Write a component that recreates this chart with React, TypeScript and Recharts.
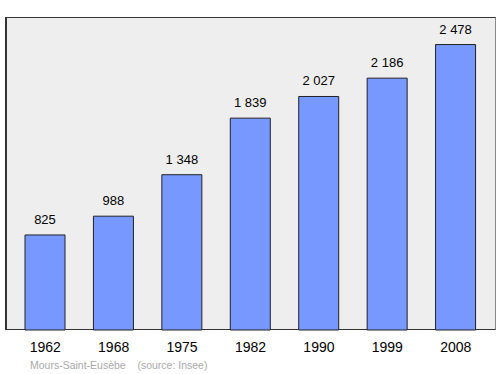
import { BarChart, Bar, XAxis, YAxis, LabelList } from "recharts";

const years = ["1962", "1968", "1975", "1982", "1990", "1999", "2008"];
const population = [825, 988, 1348, 1839, 2027, 2186, 2478];
const popLabels = ["825", "988", "1 348", "1 839", "2 027", "2 186", "2 478"];

const data = years.map((y, i) => ({ year: y, pop: population[i], label: popLabels[i] }));

export default function App() {
  return (
    <div style={{ position: "absolute", left: 0, top: 0, width: 500, height: 374, background: "#fff", fontFamily: "'Liberation Sans', Arial, sans-serif" }}>
      <div
        style={{
          position: "absolute",
          left: 5,
          top: 17,
          width: 488,
          height: 311,
          background: "#eeeeee",
          border: "1px solid #333",
          borderLeftWidth: 2,
          borderRightColor: "#888",
        }}
      />
      <div style={{ position: "absolute", left: 0, top: 0 }}>
        <BarChart width={500} height={374} data={data} margin={{ top: 17, right: 5, left: 5, bottom: 0 }}>
          <XAxis
            dataKey="year"
            height={44}
            axisLine={false}
            tickLine={false}
            padding={{ left: 6, right: 5 }}
            tick={{ fontSize: 14, fill: "#000" }}
            tickMargin={6}
          />
          <YAxis hide domain={[0, 2717]} />
          <Bar dataKey="pop" fill="#7799ff" stroke="#222" strokeWidth={1} barSize={40} isAnimationActive={false}>
            <LabelList dataKey="label" position="top" offset={11} style={{ fontSize: 13, fill: "#000" }} />
          </Bar>
        </BarChart>
      </div>
      <div style={{ position: "absolute", left: 30, top: 359, fontSize: 10.5, color: "#aaa", whiteSpace: "pre" }}>
        {"Mours-Saint-Eusèbe    (source: Insee)"}
      </div>
    </div>
  );
}
